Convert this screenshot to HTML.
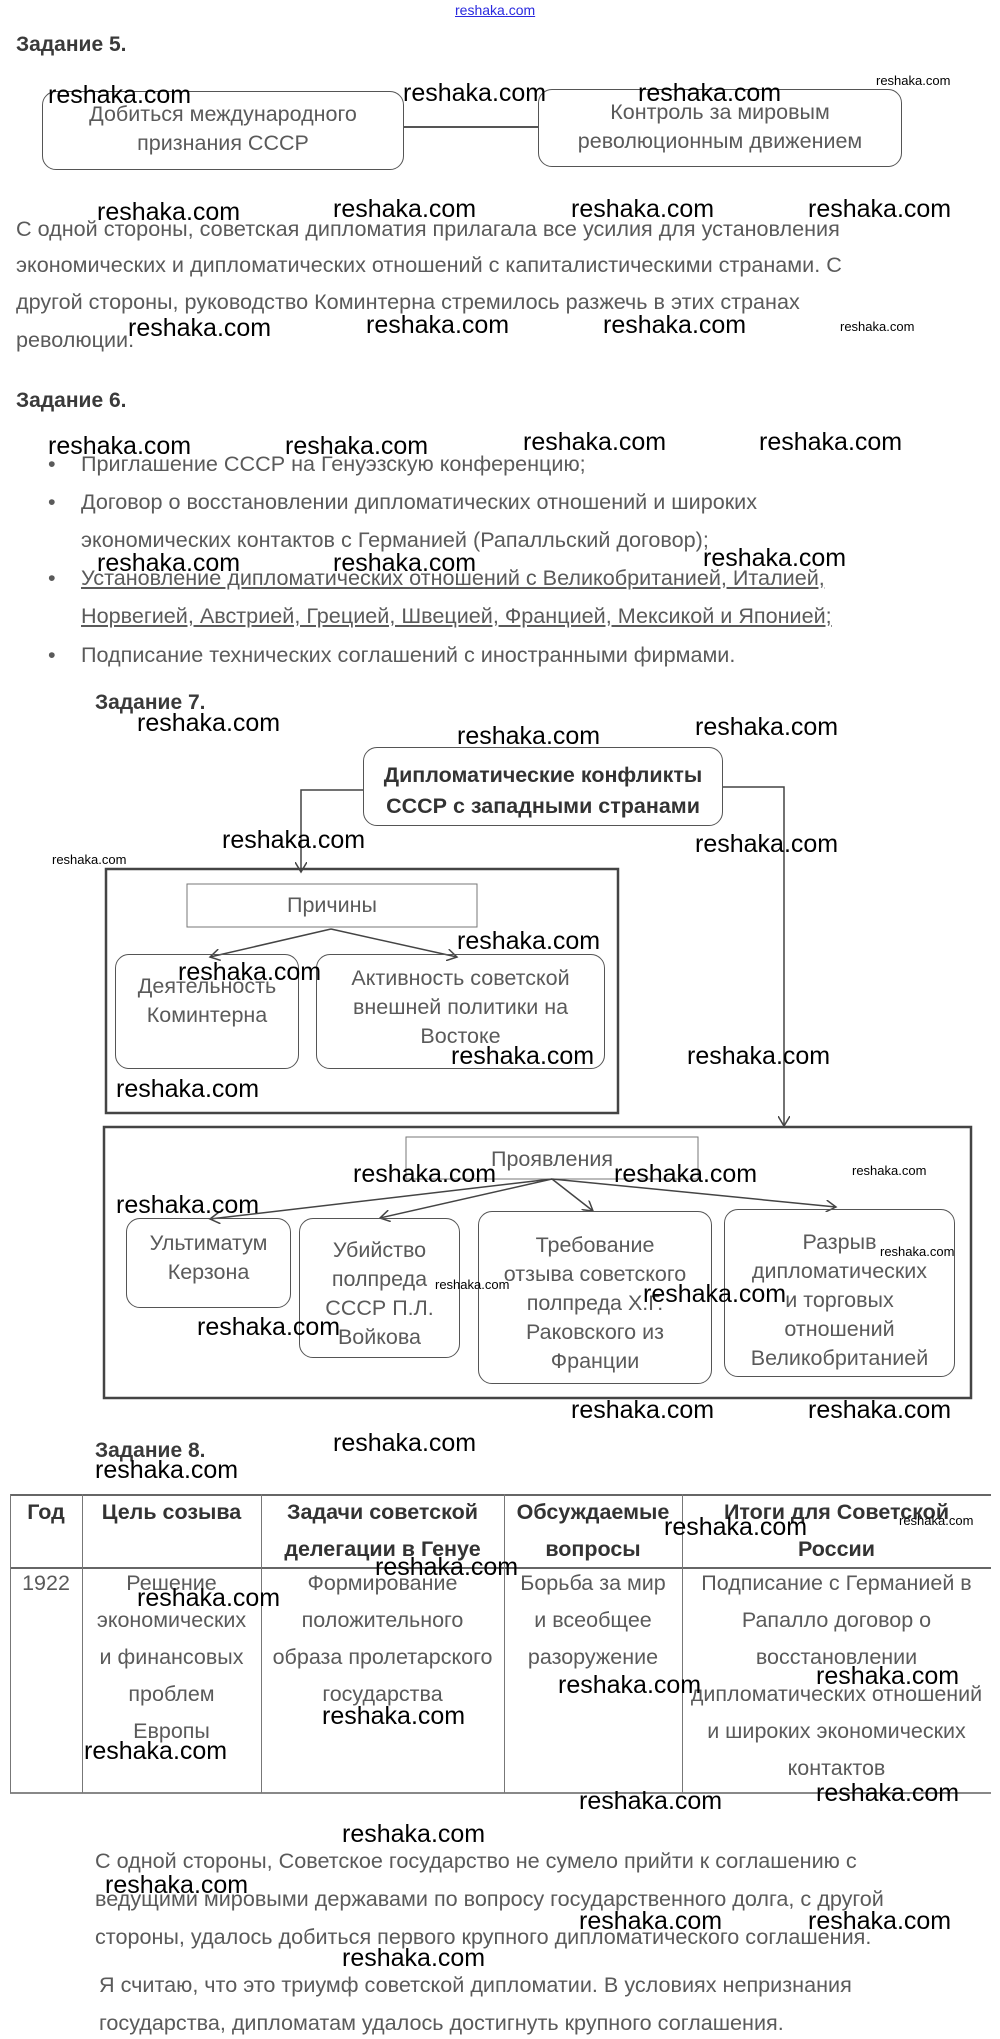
<!DOCTYPE html>
<html><head><meta charset="utf-8">
<style>
body{margin:0;background:#fff;}
#p{position:relative;width:1000px;height:2039px;overflow:hidden;font-family:"Liberation Sans",sans-serif;}
.t{position:absolute;font-size:21.6px;color:#5a5a5a;white-space:nowrap;line-height:24px;}
.h{position:absolute;font-size:21px;font-weight:bold;color:#3a3a3a;white-space:nowrap;}
.w{position:absolute;font-size:25px;color:#000;white-space:nowrap;line-height:26px;}
.s{position:absolute;font-size:13px;color:#000;white-space:nowrap;line-height:14px;}
.c{position:absolute;text-align:center;font-size:21.5px;color:#5a5a5a;line-height:29px;white-space:nowrap;}
.b{position:absolute;border:1.5px solid #555;border-radius:14px;box-sizing:border-box;}
</style></head><body><div id="p">
<div style="position:absolute;left:455px;top:2px;font-size:14px;color:#2a2adf;text-decoration:underline;">reshaka.com</div>

<div class="h" style="left:16px;top:33px;">Задание 5.</div>
<div class="b" style="left:42px;top:91px;width:362px;height:79px;"></div>
<div class="b" style="left:538px;top:89px;width:364px;height:78px;"></div>
<div style="position:absolute;left:404px;top:126px;width:134px;height:1.5px;background:#555;"></div>
<div class="c" style="left:42px;top:100px;width:362px;">Добиться международного<br>признания СССР</div>
<div class="c" style="left:538px;top:98px;width:364px;">Контроль за мировым<br>революционным движением</div>

<div class="t" style="left:16px;top:217px;">С одной стороны, советская дипломатия прилагала все усилия для установления</div>
<div class="t" style="left:16px;top:253px;">экономических и дипломатических отношений с капиталистическими странами. С</div>
<div class="t" style="left:16px;top:290px;">другой стороны, руководство Коминтерна стремилось разжечь в этих странах</div>
<div class="t" style="left:16px;top:328px;">революции.</div>

<div class="h" style="left:16px;top:389px;">Задание 6.</div>
<div class="t" style="left:48px;top:452px;">•</div><div class="t" style="left:81px;top:452px;">Приглашение СССР на Генуэзскую конференцию;</div>
<div class="t" style="left:48px;top:490px;">•</div><div class="t" style="left:81px;top:490px;">Договор о восстановлении дипломатических отношений и широких</div>
<div class="t" style="left:81px;top:528px;">экономических контактов с Германией (Рапалльский договор);</div>
<div class="t" style="left:48px;top:566px;">•</div><div class="t" style="left:81px;top:566px;text-decoration:underline;">Установление дипломатических отношений с Великобританией, Италией,</div>
<div class="t" style="left:81px;top:604px;text-decoration:underline;">Норвегией, Австрией, Грецией, Швецией, Францией, Мексикой и Японией;</div>
<div class="t" style="left:48px;top:643px;">•</div><div class="t" style="left:81px;top:643px;">Подписание технических соглашений с иностранными фирмами.</div>

<div class="h" style="left:95px;top:691px;">Задание 7.</div>
<svg style="position:absolute;left:0;top:0" width="1000" height="2039">
<defs><marker id="a" markerWidth="12" markerHeight="12" refX="10" refY="6" orient="auto" markerUnits="userSpaceOnUse"><path d="M0,0 L10,6 L0,12" fill="none" stroke="#444" stroke-width="1.5"/></marker></defs>
<g stroke="#444" stroke-width="1.5" fill="none">
<path d="M363,790 H301 V872" marker-end="url(#a)"/>
<path d="M723,787 H784 V1126" marker-end="url(#a)"/>
<rect x="106" y="869" width="512" height="244" stroke-width="2.5"/>
<rect x="104" y="1127" width="867" height="271" stroke-width="2.5"/>
<rect x="187" y="884" width="290" height="43" stroke="#777" stroke-width="1"/>
<rect x="406" y="1137" width="292" height="42" stroke="#777" stroke-width="1"/>
<path d="M331,929 L210,957" marker-end="url(#a)"/>
<path d="M331,929 L457,957" marker-end="url(#a)"/>
<path d="M552,1179 L210,1219" marker-end="url(#a)"/>
<path d="M552,1179 L380,1218" marker-end="url(#a)"/>
<path d="M552,1179 L593,1211" marker-end="url(#a)"/>
<path d="M552,1179 L836,1207" marker-end="url(#a)"/>
</g></svg>
<div class="b" style="left:363px;top:747px;width:360px;height:79px;"></div>
<div class="c" style="left:363px;top:760px;width:360px;font-weight:bold;color:#333;line-height:31px;">Дипломатические конфликты<br>СССР с западными странами</div>
<div class="c" style="left:187px;top:891px;width:290px;">Причины</div>
<div class="b" style="left:115px;top:954px;width:184px;height:115px;"></div>
<div class="b" style="left:316px;top:954px;width:289px;height:115px;"></div>
<div class="c" style="left:115px;top:972px;width:184px;">Деятельность<br>Коминтерна</div>
<div class="c" style="left:316px;top:964px;width:289px;">Активность советской<br>внешней политики на<br>Востоке</div>
<div class="c" style="left:406px;top:1145px;width:292px;">Проявления</div>
<div class="b" style="left:126px;top:1218px;width:165px;height:90px;"></div>
<div class="b" style="left:299px;top:1218px;width:161px;height:140px;"></div>
<div class="b" style="left:478px;top:1211px;width:234px;height:173px;"></div>
<div class="b" style="left:724px;top:1209px;width:231px;height:168px;"></div>
<div class="c" style="left:126px;top:1229px;width:165px;">Ультиматум<br>Керзона</div>
<div class="c" style="left:299px;top:1236px;width:161px;">Убийство<br>полпреда<br>СССР П.Л.<br>Войкова</div>
<div class="c" style="left:478px;top:1231px;width:234px;">Требование<br>отзыва советского<br>полпреда Х.Г.<br>Раковского из<br>Франции</div>
<div class="c" style="left:724px;top:1228px;width:231px;">Разрыв<br>дипломатических<br>и торговых<br>отношений<br>Великобританией</div>

<div class="h" style="left:95px;top:1439px;">Задание 8.</div>
<div style="position:absolute;left:10px;top:1494px;width:981px;height:1.5px;background:#666"></div>
<div style="position:absolute;left:10px;top:1567px;width:981px;height:1.5px;background:#666"></div>
<div style="position:absolute;left:10px;top:1792px;width:981px;height:1.5px;background:#888"></div>
<div style="position:absolute;left:10px;top:1494px;width:1px;height:299px;background:#777"></div>
<div style="position:absolute;left:82px;top:1494px;width:1px;height:299px;background:#777"></div>
<div style="position:absolute;left:261px;top:1494px;width:1px;height:299px;background:#777"></div>
<div style="position:absolute;left:504px;top:1494px;width:1px;height:299px;background:#777"></div>
<div style="position:absolute;left:682px;top:1494px;width:1px;height:299px;background:#777"></div>
<div class="c" style="left:10px;top:1494px;width:72px;font-weight:bold;color:#333;line-height:37px;">Год</div>
<div class="c" style="left:82px;top:1494px;width:179px;font-weight:bold;color:#333;line-height:37px;">Цель созыва</div>
<div class="c" style="left:261px;top:1494px;width:243px;font-weight:bold;color:#333;line-height:37px;">Задачи советской<br>делегации в Генуе</div>
<div class="c" style="left:504px;top:1494px;width:178px;font-weight:bold;color:#333;line-height:37px;">Обсуждаемые<br>вопросы</div>
<div class="c" style="left:682px;top:1494px;width:309px;font-weight:bold;color:#333;line-height:37px;">Итоги для Советской<br>России</div>
<div class="c" style="left:10px;top:1565px;width:72px;line-height:37px;">1922</div>
<div class="c" style="left:82px;top:1565px;width:179px;line-height:37px;">Решение<br>экономических<br>и финансовых<br>проблем<br>Европы</div>
<div class="c" style="left:261px;top:1565px;width:243px;line-height:37px;">Формирование<br>положительного<br>образа пролетарского<br>государства</div>
<div class="c" style="left:504px;top:1565px;width:178px;line-height:37px;">Борьба за мир<br>и всеобщее<br>разоружение</div>
<div class="c" style="left:682px;top:1565px;width:309px;line-height:37px;">Подписание с Германией в<br>Рапалло договор о<br>восстановлении<br>дипломатических отношений<br>и широких экономических<br>контактов</div>

<div class="t" style="left:95px;top:1849px;">С одной стороны, Советское государство не сумело прийти к соглашению с</div>
<div class="t" style="left:95px;top:1887px;">ведущими мировыми державами по вопросу государственного долга, с другой</div>
<div class="t" style="left:95px;top:1925px;">стороны, удалось добиться первого крупного дипломатического соглашения.</div>
<div class="t" style="left:99px;top:1973px;">Я считаю, что это триумф советской дипломатии. В условиях непризнания</div>
<div class="t" style="left:99px;top:2011px;">государства, дипломатам удалось достигнуть крупного соглашения.</div>

<div class="w" style="left:48px;top:82px">reshaka.com</div>
<div class="w" style="left:403px;top:80px">reshaka.com</div>
<div class="w" style="left:638px;top:80px">reshaka.com</div>
<div class="s" style="left:876px;top:74px">reshaka.com</div>
<div class="w" style="left:97px;top:199px">reshaka.com</div>
<div class="w" style="left:333px;top:196px">reshaka.com</div>
<div class="w" style="left:571px;top:196px">reshaka.com</div>
<div class="w" style="left:808px;top:196px">reshaka.com</div>
<div class="w" style="left:128px;top:315px">reshaka.com</div>
<div class="w" style="left:366px;top:312px">reshaka.com</div>
<div class="w" style="left:603px;top:312px">reshaka.com</div>
<div class="s" style="left:840px;top:320px">reshaka.com</div>
<div class="w" style="left:48px;top:433px">reshaka.com</div>
<div class="w" style="left:285px;top:433px">reshaka.com</div>
<div class="w" style="left:523px;top:429px">reshaka.com</div>
<div class="w" style="left:759px;top:429px">reshaka.com</div>
<div class="w" style="left:97px;top:550px">reshaka.com</div>
<div class="w" style="left:333px;top:550px">reshaka.com</div>
<div class="w" style="left:703px;top:545px">reshaka.com</div>
<div class="w" style="left:137px;top:710px">reshaka.com</div>
<div class="w" style="left:457px;top:723px">reshaka.com</div>
<div class="w" style="left:695px;top:714px">reshaka.com</div>
<div class="w" style="left:222px;top:827px">reshaka.com</div>
<div class="s" style="left:52px;top:853px">reshaka.com</div>
<div class="w" style="left:695px;top:831px">reshaka.com</div>
<div class="w" style="left:457px;top:928px">reshaka.com</div>
<div class="w" style="left:178px;top:959px">reshaka.com</div>
<div class="w" style="left:451px;top:1043px">reshaka.com</div>
<div class="w" style="left:687px;top:1043px">reshaka.com</div>
<div class="w" style="left:116px;top:1076px">reshaka.com</div>
<div class="w" style="left:353px;top:1161px">reshaka.com</div>
<div class="w" style="left:614px;top:1161px">reshaka.com</div>
<div class="s" style="left:852px;top:1164px">reshaka.com</div>
<div class="w" style="left:116px;top:1192px">reshaka.com</div>
<div class="s" style="left:880px;top:1245px">reshaka.com</div>
<div class="s" style="left:435px;top:1278px">reshaka.com</div>
<div class="w" style="left:643px;top:1281px">reshaka.com</div>
<div class="w" style="left:197px;top:1314px">reshaka.com</div>
<div class="w" style="left:571px;top:1397px">reshaka.com</div>
<div class="w" style="left:808px;top:1397px">reshaka.com</div>
<div class="w" style="left:333px;top:1430px">reshaka.com</div>
<div class="w" style="left:95px;top:1457px">reshaka.com</div>
<div class="w" style="left:664px;top:1514px">reshaka.com</div>
<div class="s" style="left:899px;top:1514px">reshaka.com</div>
<div class="w" style="left:375px;top:1554px">reshaka.com</div>
<div class="w" style="left:137px;top:1585px">reshaka.com</div>
<div class="w" style="left:816px;top:1663px">reshaka.com</div>
<div class="w" style="left:558px;top:1672px">reshaka.com</div>
<div class="w" style="left:322px;top:1703px">reshaka.com</div>
<div class="w" style="left:84px;top:1738px">reshaka.com</div>
<div class="w" style="left:579px;top:1788px">reshaka.com</div>
<div class="w" style="left:816px;top:1780px">reshaka.com</div>
<div class="w" style="left:342px;top:1821px">reshaka.com</div>
<div class="w" style="left:105px;top:1872px">reshaka.com</div>
<div class="w" style="left:579px;top:1908px">reshaka.com</div>
<div class="w" style="left:808px;top:1908px">reshaka.com</div>
<div class="w" style="left:342px;top:1945px">reshaka.com</div>
</div></body></html>
